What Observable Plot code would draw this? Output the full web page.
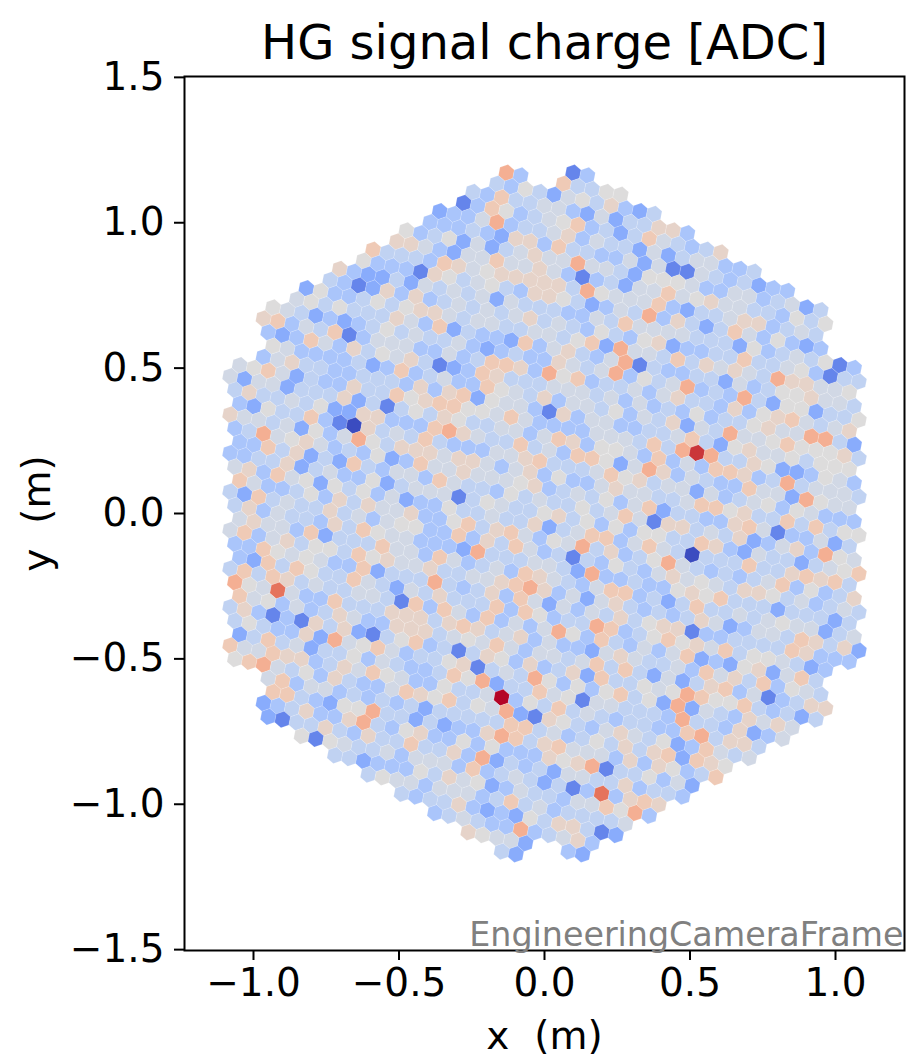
<!DOCTYPE html>
<html>
<head>
<meta charset="utf-8">
<script src="https://cdn.jsdelivr.net/npm/d3@7"></script>
<script src="https://cdn.jsdelivr.net/npm/@observablehq/plot@0.6"></script>
<style>
html,body{margin:0;padding:0;background:#fff}
svg{display:block;overflow:visible}
</style>
</head>
<body>
<div id="chart"></div>
<script>
// Colour of each of the 1855 camera pixels, estimated by eye from the picture as a coarse
// level (0 deepest blue ... 6 grey ... c deepest red). They are readings of colour, not ADC
// values: the reference has no colour bar. "." marks a lattice site with no pixel.
const rowStart = [0,-5,-6,-8,-9,-11,-12,-14,-15,-17,-18,-20,-21,-23,-24,-26,-27,-27,-27,-28,-30,-31,-31,-31,-32,-32,-32,-33,-33,-33,-34,-34,-34,-35,-35,-35,-36,-36,-36,-37,-37,-37,-38,-38,-36,-36,-37,-37,-35,-33,-31,-29,-27,-25,-23];
const rowLevels = [
"13",
"93..84466",
"436425647324",
"4384455325244773",
"1386345683424854347",
"23359344573544252455334",
"33343277384433525115434233",
"634625245755955426665335534524",
"7753255855753134255856755443646",
"84443875677777496555832445773454",
"633317645643776423549374248536323",
"7322425454525444335485555444263454613",
"43127373454545745436436723344844563144",
"263346467754554455468295548475754977556",
"5646444753824332835743591433442534667554",
"654232346454453234337545936459343942662446",
"783548135553353488739683445357443736785457",
"323853746574123874445554535343634467559942",
"653333423834533865473554635472549556866674",
"357443344437378265531735533445842675564666",
"56852433744867886658533335554849b94476223653",
"525524447241464764455358736653835388734945554",
"47445462277333897544845388625973543385529655",
"32644831074548433355784445867455253456365333",
"755452635964777577535736335755445886744848466",
"34956753436238557555673454635824433785133524",
"33847242843553854436454464585177454723573965",
"334472453362455514654467463636644873254424568",
"57385626463523364454472458835854044484478784",
"85334637475573368478536594734695434345836347",
"428454474535663383748534143643575654776453454",
"47354437486553332944455429334336768444244424",
"57553824448553853453875435883424844545655245",
"583574664867557445578973525743434752355487472",
"33865653382444943473852535474677133444487333",
"328486448542547444838634498346867584665423",
"484874544554183853835359638435358232672584",
"965a53384447774787457353325754453857483654",
"856353475337774565853554584842524783513477",
"473131747214683414763734728446569866843424",
"4643372956853446714549636368462925437575",
"248452446354334869244856155444394437235",
"8558773475865336445c364845434433894774",
"6895463743358768465921764357546238545",
"583553434342444448845346474782876",
"88432669442423379847855537376348",
"2347337943673363633376791446352",
"214474374484473924342554473443",
"616544535553834542413a3787",
"44233364756235443558693",
"4655355534845344445",
"4344732326477412",
"345433934573",
"76552..32",
"42"
];
const levelCodes = "0123456789abc".split("");
const levelValues = [0,0.14,0.24,0.335,0.405,0.46,0.5,0.55,0.6,0.69,0.83,0.93,1];
const coolwarmStops = [0,0.125,0.25,0.375,0.5,0.625,0.75,0.875,1];
const coolwarmColors = ["#3b4cc0","#5f7fe8","#8db0fe","#b7cff9","#dddcdc","#f4c5ad","#f49a7b","#dc5d4a","#b40426"];
const xTicks = [-1,-0.5,0,0.5,1];
const yTicks = [-1.5,-1,-0.5,0,0.5,1,1.5];

// Camera geometry: a triangular lattice of 5 cm pitch, turned by about 10.9 degrees.
const pitch = 0.05, tilt = 10.893 * Math.PI / 180, sixty = Math.PI / 3;
const centreRow = 27, centreQ = -11;
const pixels = [];
rowLevels.forEach((text, m) => {
  [...text].forEach((ch, i) => {
    if (ch === ".") return;
    const q = rowStart[m] + i;
    pixels.push({
      x: pitch * ((q - centreQ) * Math.cos(tilt) + (m - centreRow) * Math.cos(tilt + sixty)),
      y: -pitch * ((q - centreQ) * Math.sin(tilt) + (m - centreRow) * Math.sin(tilt + sixty)),
      v: levelValues[levelCodes.indexOf(ch)]
    });
  });
});

const hexagon = {
  draw(context, size) {
    const R = Math.sqrt(size / Math.PI);
    for (let k = 0; k < 6; k++) {
      const t = tilt + Math.PI / 6 + k * sixty;
      const px = R * Math.cos(t), py = R * Math.sin(t);
      if (k === 0) context.moveTo(px, py); else context.lineTo(px, py);
    }
    context.closePath();
  }
};

const fmt = d3.format(".1f");
const chart = Plot.plot({
  width: 906,
  height: 1061,
  marginLeft: 184,
  marginRight: 2,
  marginTop: 76,
  marginBottom: 111,
  style: {fontFamily: "'DejaVu Sans', sans-serif", background: "white", color: "black"},
  x: {domain: [-1.2371, 1.2371]},
  y: {domain: [-1.503, 1.503]},
  color: {type: "linear", domain: coolwarmStops, range: coolwarmColors, clamp: true},
  marks: [
    Plot.dot(pixels, {x: "x", y: "y", fill: "v", r: 8.4, symbol: hexagon, stroke: "white", strokeWidth: 0.3, strokeOpacity: 0.45}),
    Plot.frame({stroke: "black", strokeWidth: 2}),
    Plot.axisX({ticks: xTicks, tickFormat: fmt, tickSize: 10, tickPadding: 8, strokeWidth: 2, fontSize: 39, label: "x\u00a0\u00a0(m)", labelAnchor: "center", labelArrow: "none", labelOffset: 98}),
    Plot.axisY({ticks: yTicks, tickFormat: fmt, tickSize: 10, tickPadding: 10, strokeWidth: 2, fontSize: 39, label: "y\u00a0\u00a0(m)", labelAnchor: "center", labelArrow: "none", labelOffset: 162}),
    Plot.text(["HG signal charge [ADC]"], {frameAnchor: "top", dy: -52, fontSize: 48, fill: "black"}),
    Plot.text(["EngineeringCameraFrame"], {frameAnchor: "bottom-right", dx: -1, dy: -5, fontSize: 33.3, fill: "#808080"})
  ]
});
document.getElementById("chart").appendChild(chart);
</script>
</body>
</html>
